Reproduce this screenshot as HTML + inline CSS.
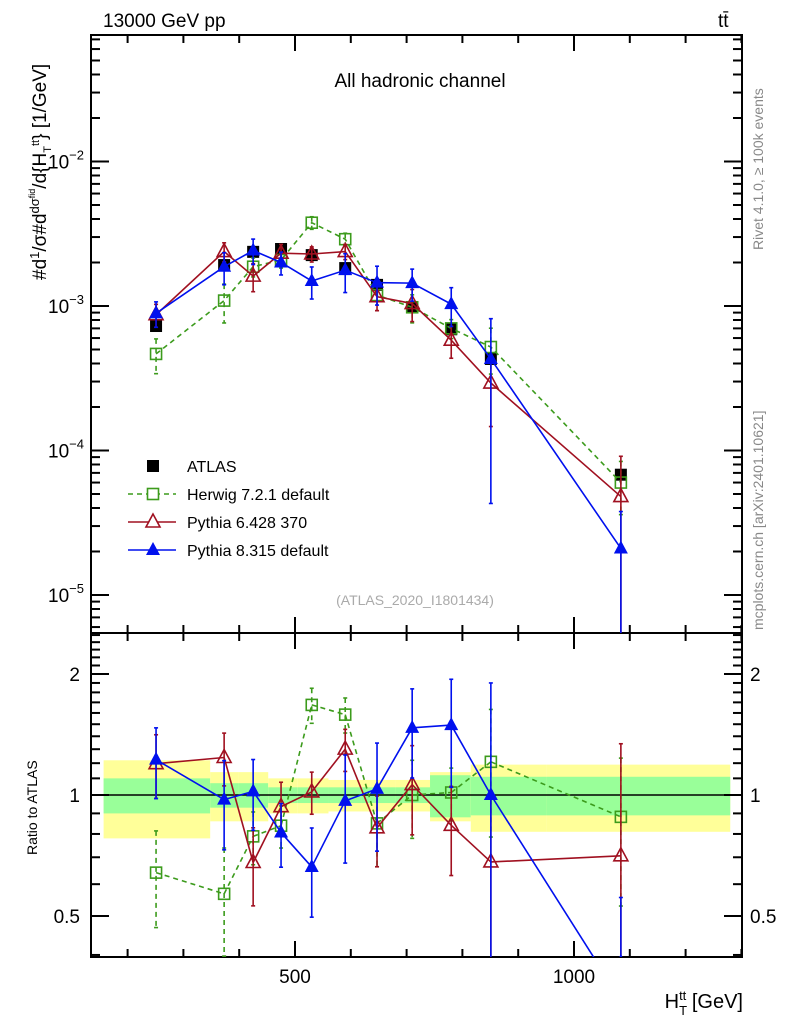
<!DOCTYPE html>
<html><head><meta charset="utf-8"><style>
html,body{margin:0;padding:0;background:#fff;width:786px;height:1024px;overflow:hidden;}
svg{display:block;}
svg text{font-family:"Liberation Sans",sans-serif;}
</style></head><body>
<svg id="c" width="786" height="1024" viewBox="0 0 786 1024" xmlns="http://www.w3.org/2000/svg">
<text x="103" y="27" font-size="19">13000 GeV pp</text>
<text x="718" y="27" font-size="19">tt̄</text>
<text x="420" y="87" font-size="19" text-anchor="middle">All hadronic channel</text>
<text x="415" y="605" font-size="14" fill="#aaa" text-anchor="middle">(ATLAS_2020_I1801434)</text>
<text transform="translate(763,250) rotate(-90)" font-size="14" fill="#888">Rivet 4.1.0, ≥ 100k events</text>
<text transform="translate(763,630) rotate(-90)" font-size="14" fill="#888">mcplots.cern.ch [arXiv:2401.10621]</text>
<text transform="translate(46,280) rotate(-90)" font-size="19">#d<tspan font-size="13" dy="-7">1</tspan><tspan dy="7">/σ</tspan>#d<tspan font-size="13" dy="-7">dσ</tspan><tspan font-size="9" dy="-4">fid</tspan><tspan dy="11">/d{H</tspan><tspan font-size="11" dy="5">T</tspan><tspan font-size="11" dy="-12">tt</tspan><tspan dy="7">} [1/GeV]</tspan></text>
<text transform="translate(37,855) rotate(-90)" font-size="14">Ratio to ATLAS</text>
<text x="743" y="1008" font-size="20" text-anchor="end">H<tspan font-size="13" dy="7">T</tspan><tspan font-size="13" dx="-8" dy="-15">tt</tspan><tspan dy="8"> [GeV]</tspan></text>
<g id="g"></g>
</svg>
<script>
const xEdges=[157,348,398,452,505,560,620,680,742,815,950,1280];
const xCenters=[251,373,425,475,530,590,647,710,780,851,1084];
const atlas=[7.27e-4,1.92e-3,2.37e-3,2.48e-3,2.25e-3,1.83e-3,1.40e-3,9.8e-4,6.9e-4,4.3e-4,6.8e-5];
const statRel=[0.10,0.07,0.07,0.045,0.045,0.045,0.045,0.045,0.12,0.11,0.11];
const totRel=[0.22,0.14,0.14,0.10,0.10,0.09,0.09,0.09,0.14,0.19,0.19];
const herwig=[4.66e-4,1.09e-3,1.87e-3,2.08e-3,3.77e-3,2.90e-3,1.19e-3,9.8e-4,7.0e-4,5.2e-4,6.0e-5];
const herwigErr=[0.27,0.3,0.15,0.12,0.1,0.1,0.22,0.22,0.15,0.35,0.4];
const py6=[8.7e-4,2.38e-3,1.61e-3,2.32e-3,2.29e-3,2.38e-3,1.16e-3,1.04e-3,5.8e-4,2.93e-4,4.8e-5];
const py6Err=[0.18,0.15,0.22,0.15,0.12,0.12,0.2,0.25,0.25,0.5,0.9];
const py8=[8.9e-4,1.87e-3,2.42e-3,2.0e-3,1.49e-3,1.77e-3,1.45e-3,1.44e-3,1.03e-3,4.3e-4,2.1e-5];
const py8Err=[0.2,0.25,0.2,0.18,0.25,0.3,0.3,0.25,0.3,0.9,0.8];

const L=91,R=742,T=35,MB=633,RB=957;
const X=v=>295+(v-500)*0.558;
const Y=v=>306-(Math.log10(v)+3)*144.5;
const RY=v=>795-Math.log2(v)*121;
const NS="http://www.w3.org/2000/svg";
const g=document.getElementById('g');
function mk(t,a,p){const e=document.createElementNS(NS,t);for(const k in a)e.setAttribute(k,a[k]);(p||g).appendChild(e);return e;}
const clipR=mk('clipPath',{id:'cr'});mk('rect',{x:L,y:MB,width:R-L,height:RB-MB},clipR);
const clipM=mk('clipPath',{id:'cm'});mk('rect',{x:L,y:T,width:R-L,height:MB-T},clipM);
const bands=mk('g',{'clip-path':'url(#cr)'});


for(let i=0;i<atlas.length;i++){
 const x0=X(xEdges[i]),x1=X(xEdges[i+1]);
 const y=mk('rect',{x:x0,y:RY(1+totRel[i]),width:x1-x0,height:RY(1-totRel[i])-RY(1+totRel[i]),fill:'#ffff99'},bands);
 
 
 const gr=mk('rect',{x:x0,y:RY(1+statRel[i]),width:x1-x0,height:RY(1-statRel[i])-RY(1+statRel[i]),fill:'#99ff99'},bands);
 
 
}
mk('line',{x1:L,x2:R,y1:RY(1),y2:RY(1),stroke:'#000','stroke-width':1.5});
const ax=mk('g',{stroke:'#000','stroke-width':2,fill:'none'});


mk('rect',{x:L,y:T,width:R-L,height:MB-T},ax);
mk('rect',{x:L,y:MB,width:R-L,height:RB-MB},ax);
for(let v=200;v<=1300;v+=100){const x=X(v),big=v%500==0?16:8;
 mk('line',{x1:x,x2:x,y1:MB,y2:MB-big},ax);
 mk('line',{x1:x,x2:x,y1:T,y2:T+big},ax);
 mk('line',{x1:x,x2:x,y1:RB,y2:RB-big},ax);
 mk('line',{x1:x,x2:x,y1:MB,y2:MB+big},ax);}
for(let e=-6;e<=-1;e++)for(let m=1;m<10;m++){const v=m*Math.pow(10,e),y=Y(v);if(y<T||y>MB)continue;const w=m==1?18:9;
 mk('line',{x1:L,x2:L+w,y1:y,y2:y},ax);mk('line',{x1:R,x2:R-w,y1:y,y2:y},ax);}
for(let v=0.4;v<=2.55;v+=0.1){const y=RY(v);if(y<MB||y>RB)continue;const mj=[0.5,1,2].some(q=>Math.abs(q-v)<1e-6);const w=mj?18:9;
 mk('line',{x1:L,x2:L+w,y1:y,y2:y},ax);mk('line',{x1:R,x2:R-w,y1:y,y2:y},ax);}
const lab=(x,y,t,a,fs)=>{const e=mk('text',{x:x,y:y,'text-anchor':a||'middle','font-size':fs||19});e.textContent=t;return e;};
[-2,-3,-4,-5].forEach(e=>{const t=mk('text',{x:84,y:Y(Math.pow(10,e))+7,'text-anchor':'end','font-size':19});t.innerHTML='10<tspan font-size="13" dy="-9">'+(e).toString().replace('-','−')+'</tspan>';});
[[2,'2'],[1,'1'],[0.5,'0.5']].forEach(([v,t])=>{lab(80,RY(v)+7,t,'end');lab(750,RY(v)+7,t,'start');});
lab(X(500),983,'500');lab(X(1000),983,'1000');
function series(vals,err,color,dash,marker,name,ratio){
 const grp=mk('g',{'clip-path':ratio?'url(#cr)':'url(#cm)'});
 
 
 const lo0=ratio?MB-5:T-5, hi0=ratio?RB+5:MB+5;
 const cl=y=>Math.max(lo0,Math.min(hi0,y));
 const f=ratio?(i,v)=>cl(RY(v/atlas[i])):(i,v)=>cl(Y(v));
 if(dash!==null){const pts=vals.map((v,i)=>X(xCenters[i])+','+f(i,v)).join(' ');
  if(ratio){
   // draw segments with true slope, clipped manually at panel bottom
   for(let i=0;i<vals.length-1;i++){
    let x1=X(xCenters[i]),y1=RY(vals[i]/atlas[i]),x2=X(xCenters[i+1]),y2=RY(vals[i+1]/atlas[i+1]);
    if(y2>hi0){const t=(hi0-y1)/(y2-y1);x2=x1+(x2-x1)*t;y2=hi0;}
    if(y1>hi0){const t=(hi0-y2)/(y1-y2);x1=x2+(x1-x2)*t;y1=hi0;}
    mk('line',{x1:x1,y1:y1,x2:x2,y2:y2,stroke:color,'stroke-width':1.6,'stroke-dasharray':dash||'none'},grp);
   }
  } else mk('polyline',{points:pts,fill:'none',stroke:color,'stroke-width':1.6,'stroke-dasharray':dash||'none'},grp);}
 vals.forEach((v,i)=>{const x=X(xCenters[i]);const hi=f(i,v*(1+err[i])),lo=f(i,Math.max(v*(1-err[i]),1e-9));
  mk('line',{x1:x,x2:x,y1:hi,y2:lo,stroke:color,'stroke-width':1.6,'stroke-dasharray':dash||'none'},grp);
  mk('line',{x1:x-2,x2:x+2,y1:hi,y2:hi,stroke:color,'stroke-width':1.6},grp);
  mk('line',{x1:x-2,x2:x+2,y1:lo,y2:lo,stroke:color,'stroke-width':1.6},grp);
  const y=f(i,v);let m;
  if(marker=='fsq')m=mk('rect',{x:x-6,y:y-6,width:12,height:12,fill:color},grp);
  else if(marker=='osq')m=mk('rect',{x:x-5.5,y:y-5.5,width:11,height:11,fill:'none',stroke:color,'stroke-width':1.6},grp);
  else if(marker=='otri')m=mk('polygon',{points:`${x},${y-8} ${x-7},${y+5} ${x+7},${y+5}`,fill:'none',stroke:color,'stroke-width':1.6},grp);
  else m=mk('polygon',{points:`${x},${y-8} ${x-7},${y+5} ${x+7},${y+5}`,fill:color},grp);
  
  
 });
}
const zero=atlas.map(()=>0.03);
series(atlas,zero,'#000',null,'fsq','atlas',false);
series(herwig,herwigErr,'#3c9b1c','5,4','osq','herwig',false);
series(py6,py6Err,'#a01020','','otri','pythia6',false);
series(py8,py8Err,'#0010ee','','ftri','pythia8',false);
series(herwig,herwigErr,'#3c9b1c','5,4','osq','herwig',true);
series(py6,py6Err,'#a01020','','otri','pythia6',true);
series(py8,py8Err,'#0010ee','','ftri','pythia8',true);
const leg=[['ATLAS','#000','fsq',null],['Herwig 7.2.1 default','#3c9b1c','osq','5,4'],['Pythia 6.428 370','#a01020','otri',''],['Pythia 8.315 default','#0010ee','ftri','']];
leg.forEach(([t,c,m,d],i)=>{const y=466+i*28;const lg=mk('g',{});
 
 
 if(d!==null)mk('line',{x1:128,x2:176,y1:y,y2:y,stroke:c,'stroke-width':1.6,'stroke-dasharray':d||'none'},lg);
 const x=153;
 if(m=='fsq')mk('rect',{x:x-6,y:y-6,width:12,height:12,fill:c},lg);
 else if(m=='osq')mk('rect',{x:x-5.5,y:y-5.5,width:11,height:11,fill:'#fff',stroke:c,'stroke-width':1.6},lg);
 else if(m=='otri')mk('polygon',{points:`${x},${y-8} ${x-7},${y+5} ${x+7},${y+5}`,fill:'#fff',stroke:c,'stroke-width':1.6},lg);
 else mk('polygon',{points:`${x},${y-8} ${x-7},${y+5} ${x+7},${y+5}`,fill:c},lg);
 const tx=mk('text',{x:187,y:y+6,'font-size':16},lg);tx.textContent=t;});
</script>
</body></html>
